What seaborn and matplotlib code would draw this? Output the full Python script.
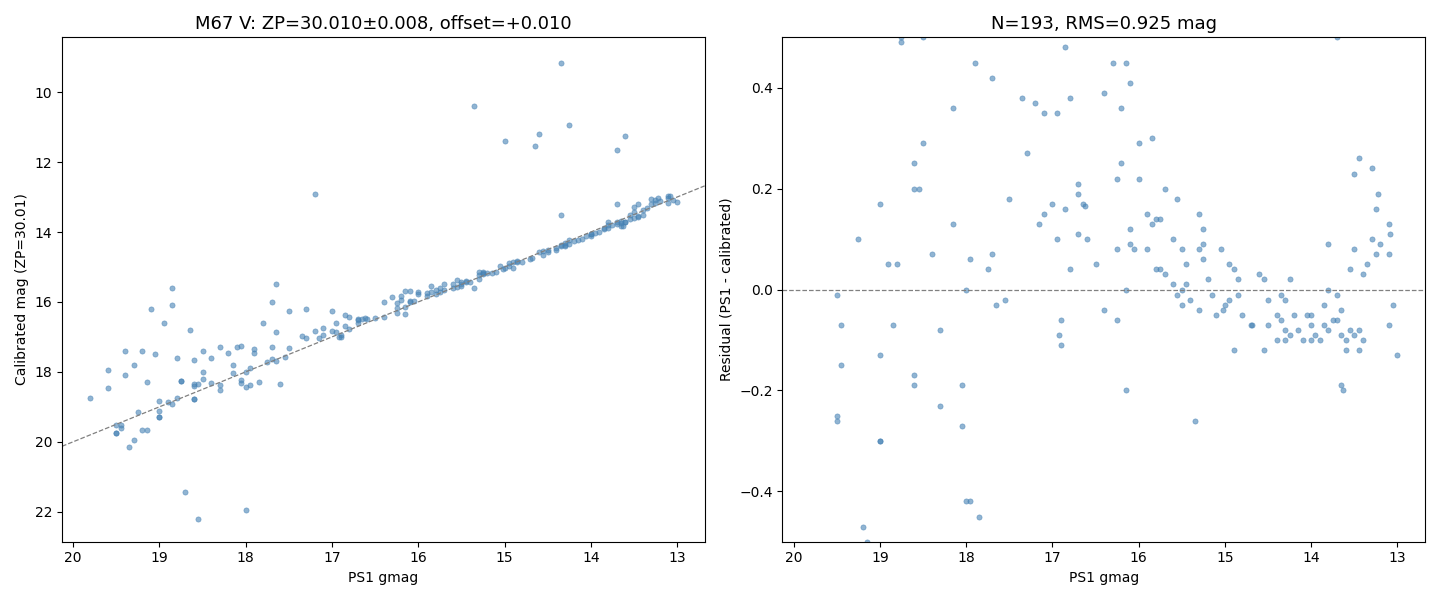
import matplotlib
matplotlib.use('Agg')
import matplotlib.pyplot as plt
import numpy as np
import pandas as pd
import seaborn as sns

# residual-panel points (PS1 gmag, residual)
ps1_core = [18.75, 18.5, 17.9, 17.7, 16.85, 16.3, 16.15, 17.35, 17.2, 16.8, 16.4, 16.1, 16.2, 18.15, 17.1, 16.95,
            18.5, 18.6, 17.3, 16.0, 15.85, 15.7, 16.2, 16.0, 16.25, 16.7, 16.7, 15.55, 17.5, 18.6, 18.55, 19.0,
            17.1, 17.0, 16.65, 16.62, 16.85, 15.9, 15.8, 15.3, 15.25, 18.15, 17.15, 16.7, 16.1, 15.75, 15.85, 15.6,
            16.6, 16.95, 16.25, 16.1, 16.05, 15.9, 15.75, 15.7, 15.5, 15.3, 15.25, 15.05, 15.45, 15.25, 19.25, 18.9,
            18.8, 18.4, 17.95, 17.75, 17.7, 16.8, 16.5, 15.8, 15.6, 15.45, 15.5, 15.2, 14.95, 14.9, 14.85, 14.55,
            14.6, 14.25, 13.8, 13.5, 13.35, 13.3, 13.2, 13.25, 13.1, 13.1, 13.08, 13.25, 13.22, 13.3, 13.45, 13.5,
            13.4, 13.55, 13.8, 16.15, 18.0,
            19.5, 19.45, 18.85, 18.3, 17.65, 17.55, 16.9, 16.92, 16.9, 16.4, 16.25, 15.55, 15.5, 15.4, 15.3, 15.15,
            15.1, 15.0, 15.02, 14.95, 14.85, 14.8, 14.7, 14.68, 14.5, 14.5, 14.4, 14.35, 14.35, 14.3, 14.3, 14.25,
            14.15, 14.05, 14.0, 14.0, 13.95, 13.9, 13.85, 13.8, 13.75, 13.7, 13.65, 13.6, 13.55, 13.6, 13.5, 13.45,
            13.4, 13.45, 13.85, 13.7, 13.65, 13.05, 13.1, 13.0, 14.9, 14.55, 14.4, 14.3, 14.1, 13.65, 13.63, 15.35,
            16.15, 18.05, 18.6, 18.6, 18.3, 18.05, 17.95, 18.0, 19.0, 19.5, 19.0, 19.2, 14.2, 14.0]
resid_core = [0.49, 0.5, 0.45, 0.42, 0.48, 0.45, 0.45, 0.38, 0.37, 0.38, 0.39, 0.41, 0.36, 0.36, 0.35, 0.35,
              0.29, 0.25, 0.27, 0.29, 0.3, 0.2, 0.25, 0.22, 0.22, 0.21, 0.19, 0.18, 0.18, 0.2, 0.2, 0.17,
              0.15, 0.17, 0.17, 0.165, 0.16, 0.15, 0.14, 0.15, 0.12, 0.13, 0.13, 0.11, 0.12, 0.14, 0.13, 0.1,
              0.1, 0.1, 0.08, 0.09, 0.08, 0.08, 0.04, 0.03, 0.08, 0.08, 0.09, 0.08, 0.05, 0.06, 0.1, 0.05,
              0.05, 0.07, 0.06, 0.04, 0.07, 0.04, 0.05, 0.04, 0.01, 0.01, 0.0, 0.02, 0.05, 0.04, 0.02, 0.02,
              0.03, 0.02, 0.09, 0.08, 0.05, 0.1, 0.09, 0.07, 0.07, 0.13, 0.11, 0.16, 0.19, 0.24, 0.26, 0.23,
              0.03, 0.04, 0.0, 0.0, 0.0,
              -0.01, -0.07, -0.07, -0.08, -0.03, -0.02, -0.06, -0.09, -0.11, -0.04, -0.06, -0.01, -0.03, -0.02, -0.04, -0.01,
              -0.05, -0.03, -0.04, -0.02, -0.01, -0.05, -0.07, -0.07, -0.07, -0.02, -0.05, -0.06, -0.01, -0.02, -0.08, -0.09,
              -0.08, -0.05, -0.07, -0.1, -0.09, -0.1, -0.07, -0.08, -0.06, -0.06, -0.09, -0.1, -0.08, -0.12, -0.09, -0.12,
              -0.1, -0.08, -0.03, -0.01, -0.04, -0.03, -0.07, -0.13, -0.12, -0.12, -0.1, -0.1, -0.1, -0.19, -0.2, -0.26,
              -0.2, -0.19, -0.17, -0.19, -0.23, -0.27, -0.42, -0.42, -0.13, -0.26, -0.3, -0.47, -0.05, -0.05]

# outliers seen only in the calibrated-mag panel (PS1 gmag, calibrated mag)
ps1_out = [19.8, 19.6, 19.6, 19.4, 19.4, 19.3, 19.2, 19.15, 19.1, 19.05, 18.95, 18.85, 18.85, 18.8, 18.65, 18.75,
           18.6, 18.5, 18.4, 18.3, 18.2, 18.1, 18.05, 17.9, 17.8, 17.7, 17.65, 17.65, 17.5, 17.3, 17.2, 17.0,
           15.35, 15.0, 14.65, 14.6, 14.35, 14.25, 13.6, 13.7, 13.7, 14.35,
           19.35, 19.3, 19.5, 19.45, 19.15, 18.7, 18.55, 18.0, 19.0, 17.6, 17.85]
cal_out = [18.75, 18.45, 17.95, 17.4, 18.1, 17.8, 17.4, 18.3, 16.2, 17.5, 16.6, 15.6, 16.1, 17.6, 16.8, 18.25,
           17.65, 17.4, 17.6, 17.3, 17.45, 17.3, 17.25, 17.35, 16.6, 16.0, 15.5, 16.85, 16.25, 16.2, 12.9, 16.25,
           10.4, 11.4, 11.55, 11.2, 9.15, 10.95, 11.25, 11.65, 13.2, 13.5,
           20.15, 19.95, 19.75, 19.6, 19.65, 21.45, 22.2, 21.95, 19.3, 18.35, 18.3]

df = pd.DataFrame({'ps1': ps1_core + ps1_out,
                   'resid': resid_core + [p - c for p, c in zip(ps1_out, cal_out)]})
df['cal'] = df['ps1'] - df['resid']

fig, (ax1, ax2) = plt.subplots(1, 2, figsize=(14.4, 6), dpi=100)
kw = dict(color='steelblue', alpha=0.6, s=14, edgecolor='steelblue', linewidth=0.5)

sns.scatterplot(data=df, x='ps1', y='cal', ax=ax1, **kw)
line = np.array([20.13, 12.68])
ax1.plot(line, line + 0.0, '--', color='gray', lw=0.9)
ax1.set_xlim(20.13, 12.68)
ax1.set_ylim(22.86, 8.43)
ax1.set_xlabel('PS1 gmag')
ax1.set_ylabel('Calibrated mag (ZP=30.01)')
ax1.set_title('M67 V: ZP=30.010±0.008, offset=+0.010', fontsize=13)

sns.scatterplot(data=df, x='ps1', y='resid', ax=ax2, **kw)
ax2.axhline(0, ls='--', color='gray', lw=0.9)
ax2.set_xlim(20.13, 12.68)
ax2.set_ylim(-0.5, 0.5)
ax2.set_xlabel('PS1 gmag')
ax2.set_ylabel('Residual (PS1 - calibrated)')
ax2.set_title('N=193, RMS=0.925 mag', fontsize=13)

plt.tight_layout()
plt.savefig('out.png')
